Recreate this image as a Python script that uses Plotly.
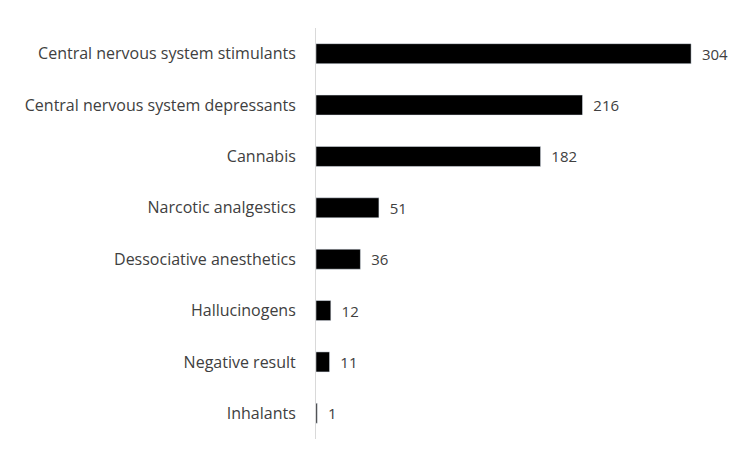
import plotly.graph_objects as go

categories = ["Central nervous system stimulants", "Central nervous system depressants", "Cannabis",
              "Narcotic analgestics", "Dessociative anesthetics", "Hallucinogens", "Negative result", "Inhalants"]
values = [304, 216, 182, 51, 36, 12, 11, 1]

fig = go.Figure(go.Bar(
    y=categories, x=values, orientation="h", marker_color="black",
    text=["  " + str(v) for v in values], textposition="outside", cliponaxis=False,
    textfont=dict(size=15, color="#404040"),
))
fig.update_layout(
    width=750, height=449, margin=dict(l=308, r=20, t=20, b=18),
    plot_bgcolor="white", paper_bgcolor="white", bargap=0.61, showlegend=False,
    font=dict(family="Open Sans", size=16, color="#404040"),
)
fig.update_xaxes(range=[0, 342], visible=False, automargin=False)
fig.update_yaxes(autorange="reversed", showline=True, linecolor="#d9d9d9", linewidth=1,
                 ticks="", ticklabelstandoff=16, automargin=False)
fig.write_html("out.html")
